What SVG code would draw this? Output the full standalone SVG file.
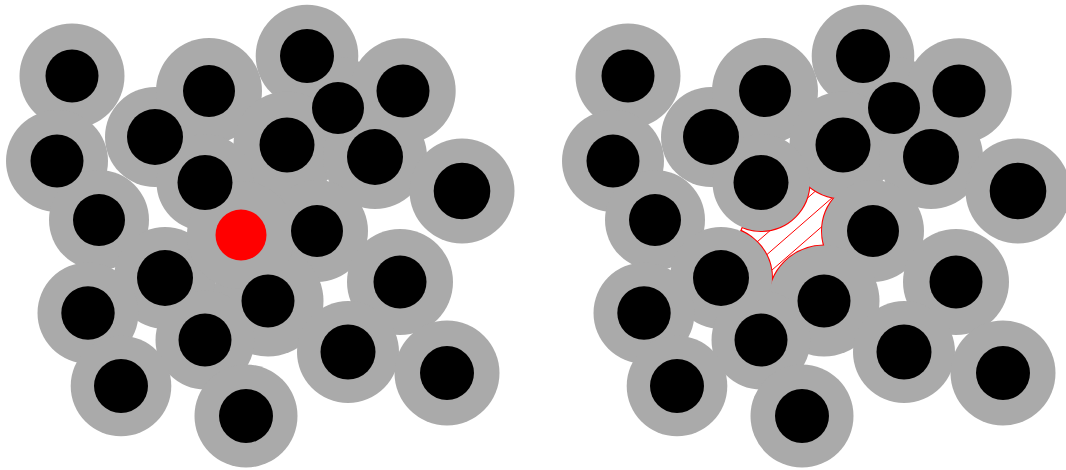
<svg xmlns="http://www.w3.org/2000/svg" xmlns:xlink="http://www.w3.org/1999/xlink" width="1066" height="470" viewBox="0 0 1066 470">
<style>
.shell{fill:#aaaaaa}
.core{fill:#000000}
.edge{fill:none;stroke:#ff0000;stroke-width:2}
.hatch{stroke:#ff0000;stroke-width:1;fill:none}
</style>
<defs>
<g id="shells" class="shell">
<circle cx="72" cy="76" r="52.5"/>
<circle cx="57" cy="161" r="51"/>
<circle cx="155" cy="137" r="50"/>
<circle cx="209" cy="91" r="53"/>
<circle cx="307" cy="56" r="51.3"/>
<circle cx="338" cy="108" r="51"/>
<circle cx="403" cy="91" r="52.7"/>
<circle cx="287" cy="145" r="53.5"/>
<circle cx="375" cy="157" r="52"/>
<circle cx="462" cy="191" r="52.5"/>
<circle cx="205" cy="182.5" r="48.5"/>
<circle cx="99" cy="220" r="50"/>
<circle cx="317" cy="231" r="51"/>
<circle cx="165" cy="278" r="51"/>
<circle cx="88" cy="313" r="50.5"/>
<circle cx="268" cy="301" r="55.5"/>
<circle cx="205" cy="340" r="49.5"/>
<circle cx="121" cy="386" r="50.3"/>
<circle cx="246" cy="416" r="51.5"/>
<circle cx="400" cy="282" r="53"/>
<circle cx="348" cy="352" r="51"/>
<circle cx="447" cy="373" r="52.5"/>
</g>
<g id="cores" class="core">
<circle cx="72" cy="76" r="26.5"/>
<circle cx="57" cy="161" r="26.5"/>
<circle cx="155" cy="137" r="28"/>
<circle cx="209" cy="91" r="26"/>
<circle cx="307" cy="56" r="27"/>
<circle cx="338" cy="108" r="26"/>
<circle cx="403" cy="91" r="26.5"/>
<circle cx="287" cy="145" r="27.5"/>
<circle cx="375" cy="157" r="28"/>
<circle cx="462" cy="191" r="28.3"/>
<circle cx="205" cy="182.5" r="27.5"/>
<circle cx="99" cy="220" r="26"/>
<circle cx="317" cy="231" r="26"/>
<circle cx="165" cy="278" r="28"/>
<circle cx="88" cy="313" r="26.7"/>
<circle cx="268" cy="301" r="26.5"/>
<circle cx="205" cy="340" r="26.5"/>
<circle cx="121" cy="386" r="27"/>
<circle cx="246" cy="416" r="27"/>
<circle cx="400" cy="282" r="26.5"/>
<circle cx="348" cy="352" r="27.5"/>
<circle cx="447" cy="373" r="27"/>
</g>
<clipPath id="voidClip"><polygon points="750,208.8 760,160 860,160 860,300 770,300 734.6,245.8"/></clipPath>
</defs>
<g id="left-panel">
<use xlink:href="#shells"/>
<circle id="left-red-shell" class="shell" cx="241" cy="235" r="54"/>
<use xlink:href="#cores"/>
<circle id="red-particle" cx="241" cy="235" r="25.5" fill="#ff0000"/>
</g>
<g id="right-panel">
<g id="void">
<polygon points="750,208.8 760,160 860,160 860,300 770,300 734.6,245.8" fill="#ffffff"/>
<line x1="750" y1="208.8" x2="734.6" y2="245.8" stroke="#ff0000" stroke-width="1.2"/>
<g clip-path="url(#voidClip)">
<line class="hatch" x1="740" y1="256.8" x2="850" y2="161"/>
<line class="hatch" x1="740" y1="278" x2="850" y2="182.2"/>
<line class="hatch" x1="740" y1="297.9" x2="850" y2="202.1"/>
<circle class="edge" cx="843" cy="145" r="53.5"/>
<circle class="edge" cx="761" cy="182.5" r="48.5"/>
<circle class="edge" cx="873" cy="231" r="51"/>
<circle class="edge" cx="721" cy="278" r="51"/>
<circle class="edge" cx="824" cy="301" r="55.5"/>
</g>
</g>
<use xlink:href="#shells" transform="translate(556,0)"/>
<use xlink:href="#cores" transform="translate(556,0)"/>
</g>
</svg>
